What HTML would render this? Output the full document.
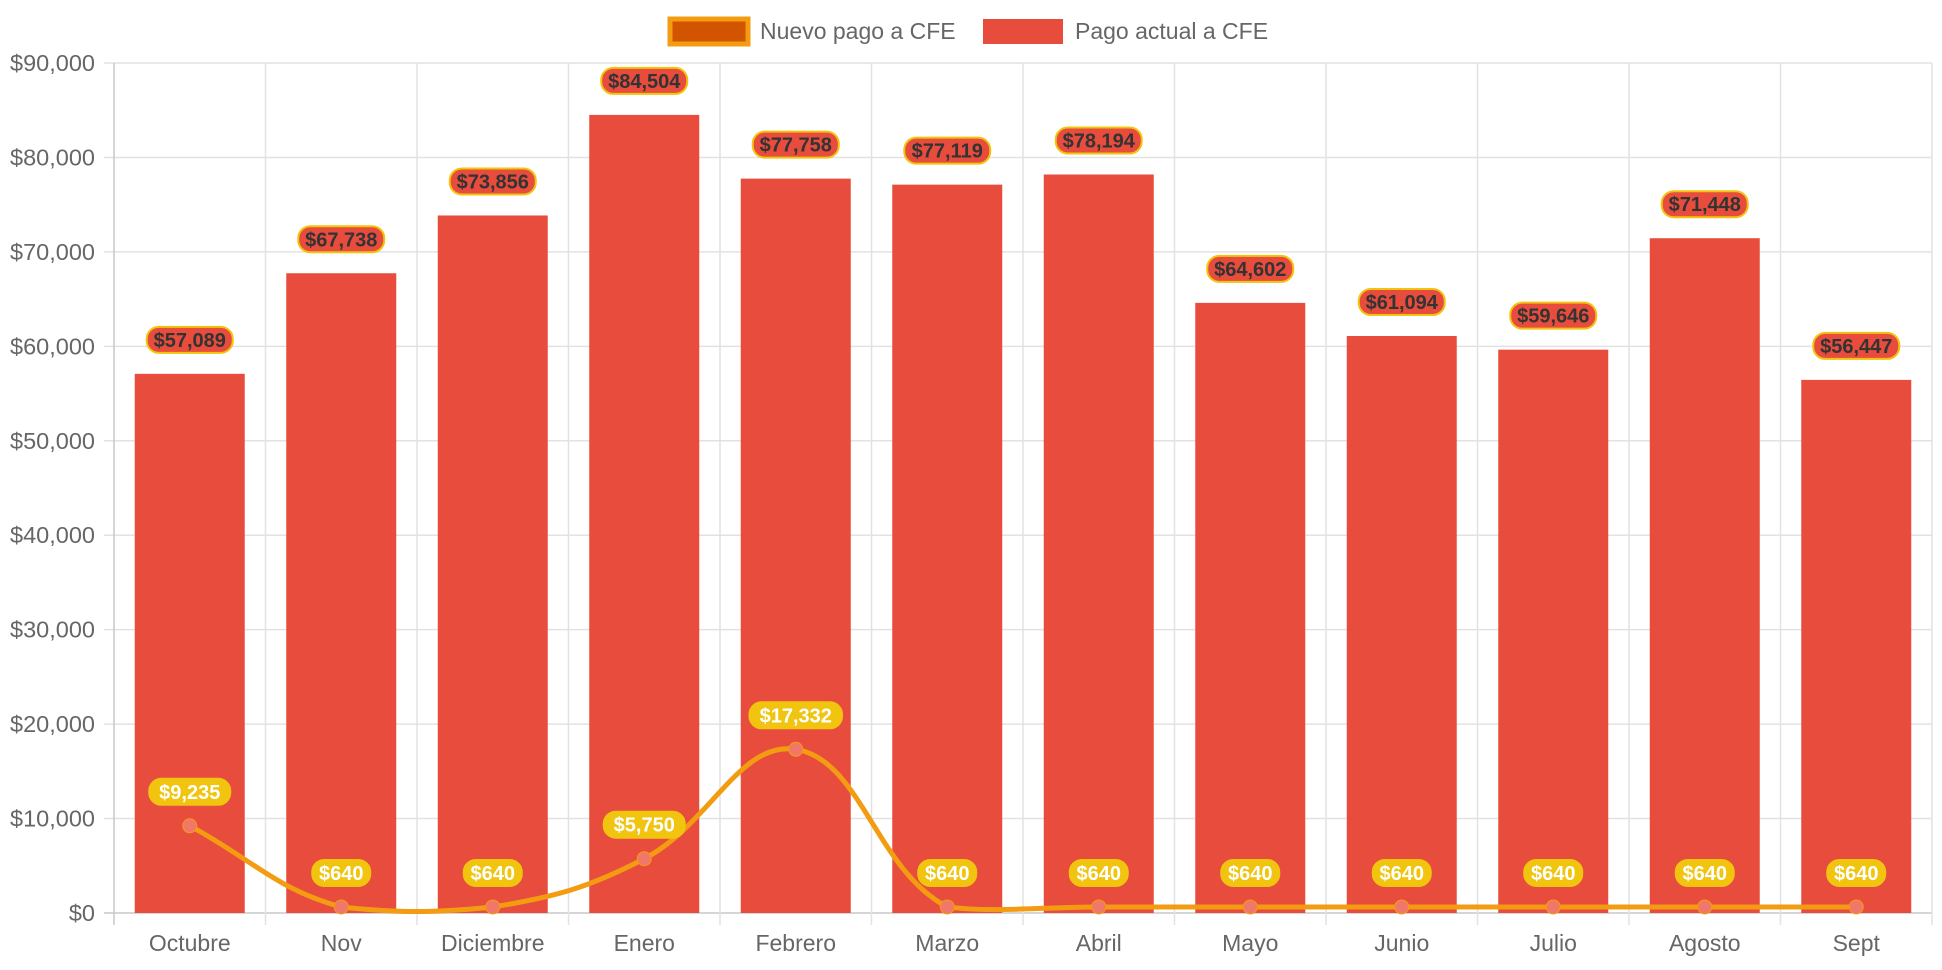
<!DOCTYPE html>
<html><head><meta charset="utf-8"><style>
html,body{margin:0;padding:0;background:#fff;}
svg{display:block;font-family:"Liberation Sans",Arial,sans-serif;}
</style></head><body>
<svg id="chart" width="1942" height="970"></svg>
<script>
const categories=["Octubre","Nov","Diciembre","Enero","Febrero","Marzo","Abril","Mayo","Junio","Julio","Agosto","Sept"];
const currentPayment=[57089,67738,73856,84504,77758,77119,78194,64602,61094,59646,71448,56447];
const newPayment=[9235,640,640,5750,17332,640,640,640,640,640,640,640];
const yTicks=[0,10000,20000,30000,40000,50000,60000,70000,80000,90000];

const NS="http://www.w3.org/2000/svg";
const svg=document.getElementById('chart');
const L=114,R=1932,T=63,B=913,yMax=90000;
const cw=(R-L)/categories.length;
const xC=i=>L+cw*(i+0.5);
const y=v=>B-(v/yMax)*(B-T);
const fmt=v=>"$"+v.toLocaleString("en-US");
function el(tag,attrs,parent){const e=document.createElementNS(NS,tag);for(const k in attrs)e.setAttribute(k,attrs[k]);(parent||svg).appendChild(e);return e;}

const grid=el('g',{});


yTicks.forEach(t=>{
  el('line',{x1:L-10,x2:R,y1:y(t),y2:y(t),stroke:t===0?'#c8c8c8':'#e2e2e2','stroke-width':1.5},grid);
  const tx=el('text',{x:L-19,y:y(t)+8,'text-anchor':'end','font-size':23.5,fill:'#666'});
  tx.textContent=fmt(t);
  
  
});
for(let i=0;i<=categories.length;i++){
  const x=L+cw*i;
  el('line',{x1:x,x2:x,y1:T,y2:B+12,stroke:i===0?'#c8c8c8':'#e2e2e2','stroke-width':1.5},grid);
}
categories.forEach((c,i)=>{
  const tx=el('text',{x:xC(i),y:B+38,'text-anchor':'middle','font-size':23,fill:'#666'});
  tx.textContent=c;
  
  
});

const bw=110;
currentPayment.forEach((v,i)=>{
  const r=el('rect',{x:xC(i)-bw/2,y:y(v),width:bw,height:B-y(v),fill:'#e74c3c'});
  
  
});

const pts=newPayment.map((v,i)=>[xC(i),y(v)]);
const tension=0.4;
const cap=v=>Math.min(B,Math.max(T,v));
const cps=pts.map((p,i)=>{
  const prev=pts[i-1]||p,next=pts[i+1]||p;
  const d01=Math.hypot(p[0]-prev[0],p[1]-prev[1]),d12=Math.hypot(next[0]-p[0],next[1]-p[1]);
  const s01=d01/(d01+d12||1),s12=d12/(d01+d12||1);
  const fa=tension*s01,fb=tension*s12;
  return{prev:[p[0]-fa*(next[0]-prev[0]),cap(p[1]-fa*(next[1]-prev[1]))],next:[p[0]+fb*(next[0]-prev[0]),cap(p[1]+fb*(next[1]-prev[1]))]};
});
let d="M"+pts[0][0]+","+pts[0][1];
for(let i=1;i<pts.length;i++){
  d+=` C${cps[i-1].next[0]},${cps[i-1].next[1]} ${cps[i].prev[0]},${cps[i].prev[1]} ${pts[i][0]},${pts[i][1]}`;
}
const line=el('path',{d:d,fill:'none',stroke:'#f39c12','stroke-width':5});


pts.forEach((p,i)=>{
  const c=el('circle',{cx:p[0],cy:p[1],r:7,fill:'#f1776a',stroke:'#f39c12','stroke-width':1});
  
  
});

function label(cx,cy,text,fill,stroke,color,w,name){
  const g=el('g',{});
  
  
  el('rect',{x:cx-w/2,y:cy-13,width:w,height:26,rx:12,fill:fill,stroke:stroke,'stroke-width':2},g);
  const t=el('text',{x:cx,y:cy+7,'text-anchor':'middle','font-size':20,'font-weight':'bold',fill:color},g);
  t.textContent=text;
}
currentPayment.forEach((v,i)=>label(xC(i),y(v)-34,fmt(v),'#e74c3c','#f1c40f','#333',86,'bar-value-label'));
newPayment.forEach((v,i)=>{const s=fmt(v);label(xC(i),y(v)-34,s,'#f1c40f','#f1c40f','#fff',s.length*11.5+12,'line-value-label');});

const lg=el('g',{});


const l1=el('g',{},lg);


el('rect',{x:670,y:19,width:78,height:25,fill:'#d35400',stroke:'#f39c12','stroke-width':5},l1);
const t1=el('text',{x:760,y:39,'font-size':23,fill:'#666'},l1);t1.textContent="Nuevo pago a CFE";
const l2=el('g',{},lg);


el('rect',{x:983,y:19,width:80,height:25,fill:'#e74c3c'},l2);
const t2=el('text',{x:1075,y:39,'font-size':23,fill:'#666'},l2);t2.textContent="Pago actual a CFE";
</script>
</body></html>
